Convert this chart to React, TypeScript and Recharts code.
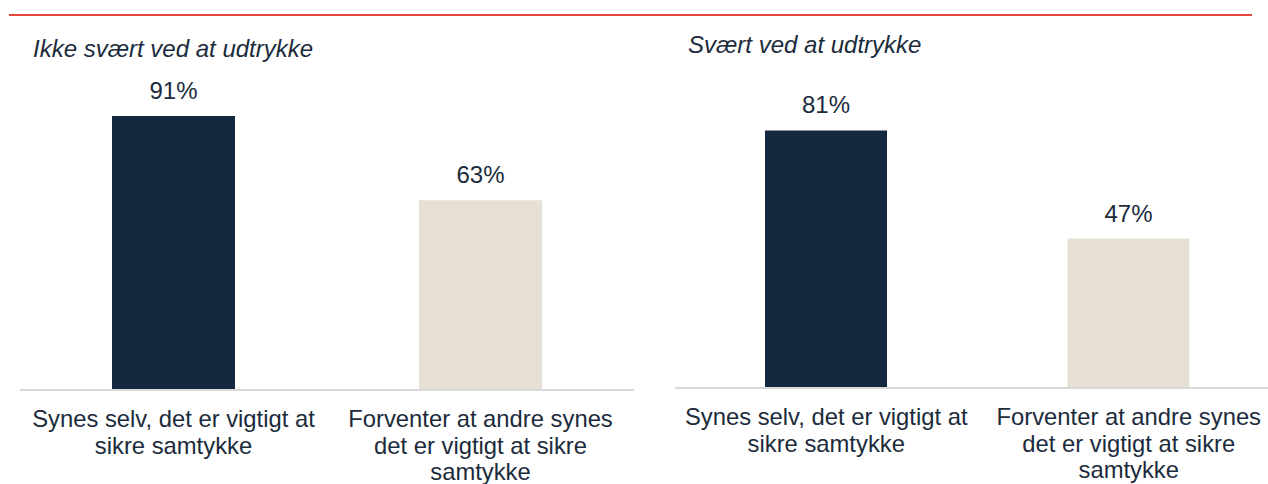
import React from 'react';
import { BarChart, Bar, XAxis, YAxis, Cell, LabelList } from 'recharts';

const categories = ['Synes selv, det er vigtigt at\nsikre samtykke', 'Forventer at andre synes\ndet er vigtigt at sikre\nsamtykke'];
const ikkeSvaert = [91, 63];
const svaert = [81, 47];
const titles = ['Ikke svært ved at udtrykke', 'Svært ved at udtrykke'];
const barColors = ['#14293F', '#E6DFD4'];

const FONT = '"Liberation Sans", Arial, sans-serif';
const TEXT = '#1B2B3C';

const leftData = categories.map((name, i) => ({ name, value: ikkeSvaert[i] }));
const rightData = categories.map((name, i) => ({ name, value: svaert[i] }));

const CategoryTick = (props: any) => {
  const { x, y, payload } = props;
  const lines = String(payload.value).split('\n');
  return (
    <text x={x} y={y + 37} textAnchor="middle" fontSize={23.8} fill={TEXT} fontFamily={FONT}>
      {lines.map((l, i) => (
        <tspan key={i} x={x} dy={i === 0 ? 0 : 26.5}>{l}</tspan>
      ))}
    </text>
  );
};

const Panel = ({ data, top, axisH, left, right, barSize }: any) => (
  <BarChart width={650} height={484} data={data} margin={{ top, right, bottom: 0, left }}>
    <XAxis
      dataKey="name"
      height={axisH}
      interval={0}
      tickLine={false}
      tickSize={0}
      tickMargin={0}
      axisLine={{ stroke: '#D9D9D9', strokeWidth: 2 }}
      tick={<CategoryTick />}
    />
    <YAxis hide domain={[0, 100]} />
    <Bar dataKey="value" barSize={barSize} isAnimationActive={false}>
      {data.map((_: any, i: number) => (
        <Cell key={i} fill={barColors[i]} />
      ))}
      <LabelList
        dataKey="value"
        position="top"
        offset={17}
        formatter={(v: any) => `${v}%`}
        style={{ fontSize: 24, fill: TEXT, fontFamily: FONT }}
      />
    </Bar>
  </BarChart>
);

export default function App() {
  return (
    <div style={{ position: 'absolute', left: 0, top: 0, width: 1268, height: 484, overflow: 'hidden', background: '#fff', fontFamily: FONT }}>
      <div style={{ position: 'absolute', left: 0, top: 0 }}>
        <Panel data={leftData} top={89} axisH={94} left={20} right={16} barSize={123} />
      </div>
      <div style={{ position: 'absolute', left: 640, top: 0 }}>
        <Panel data={rightData} top={70} axisH={96} left={35} right={10} barSize={122} />
      </div>
      <svg width={1268} height={484} style={{ position: 'absolute', left: 0, top: 0, pointerEvents: 'none' }}>
        <line x1={9} x2={1252} y1={15} y2={15} stroke="#E8473C" strokeWidth={2} />
        <text x={33} y={57} fontSize={24} fontStyle="italic" fill={TEXT} fontFamily={FONT}>{titles[0]}</text>
        <text x={688} y={53} fontSize={24} fontStyle="italic" fill={TEXT} fontFamily={FONT}>{titles[1]}</text>
      </svg>
    </div>
  );
}
